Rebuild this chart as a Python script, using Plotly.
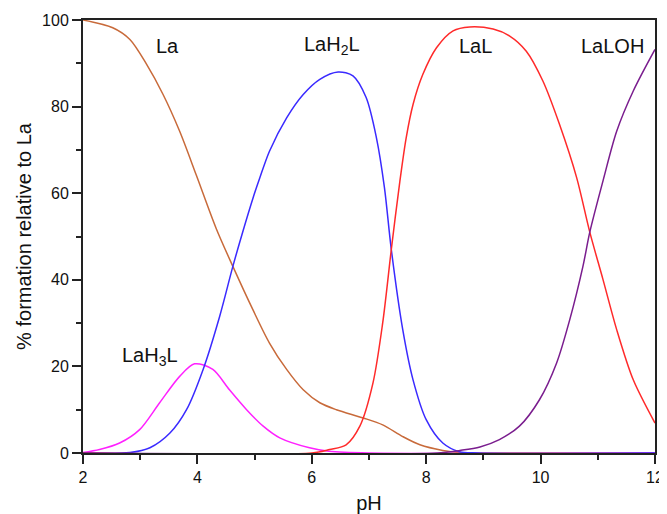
import plotly.graph_objects as go

# species distribution (pH, % formation)
la_ph = [2.0, 2.52, 2.82, 3.11, 3.40, 3.69, 3.98, 4.33, 4.62, 4.97, 5.26, 5.56, 5.85, 6.14, 6.43, 6.90, 7.24, 7.59, 7.89, 8.29, 8.6, 9.0, 12.0]
la_val = [100, 98.2, 95.5, 89.8, 82.8, 74.3, 64.2, 51.8, 43.1, 33.1, 25.4, 19.3, 14.6, 11.6, 10.0, 8.1, 6.5, 3.8, 1.9, 0.6, 0.1, 0, 0]

lah3l_ph = [2.0, 2.29, 2.64, 2.99, 3.34, 3.69, 3.95, 4.27, 4.56, 4.86, 5.15, 5.44, 5.96, 6.3, 7.0, 12.0]
lah3l_val = [0.1, 0.8, 2.3, 5.4, 11.6, 17.7, 20.6, 19.3, 14.6, 10.0, 6.2, 3.5, 1.2, 0.4, 0, 0]

lah2l_ph = [2.0, 2.82, 3.17, 3.52, 3.81, 4.10, 4.39, 4.62, 4.80, 4.97, 5.09, 5.26, 5.56, 5.85, 6.14, 6.46, 6.72, 6.95, 7.13, 7.27, 7.39, 7.59, 7.77, 8.00, 8.29, 8.58, 8.9, 12.0]
lah2l_val = [0, 0.1, 1.2, 4.6, 10.0, 19.3, 31.6, 43.1, 51.4, 58.8, 63.5, 69.7, 77.4, 82.8, 86.3, 88.0, 87.1, 82.1, 72.8, 61.3, 47.0, 28.5, 16.9, 7.7, 2.3, 0.3, 0, 0]

lal_ph = [2.0, 6.0, 6.31, 6.60, 6.84, 7.07, 7.24, 7.39, 7.54, 7.65, 7.77, 7.94, 8.18, 8.47, 8.76, 9.17, 9.46, 9.75, 10.04, 10.33, 10.63, 10.86, 11.09, 11.33, 11.62, 12.0]
lal_val = [0, 0, 0.8, 1.9, 6.2, 16.2, 30.1, 47.0, 62.8, 72.8, 80.5, 87.4, 93.6, 97.5, 98.4, 97.9, 96.3, 92.8, 85.9, 75.9, 63.6, 51.0, 40.1, 28.5, 16.9, 6.9]

laloh_ph = [2.0, 8.2, 8.59, 8.94, 9.28, 9.63, 9.98, 10.28, 10.51, 10.74, 10.86, 11.09, 11.33, 11.62, 12.0]
laloh_val = [0, 0, 0.6, 1.4, 3.1, 6.2, 12.3, 20.8, 30.8, 43.1, 51.0, 62.8, 74.3, 83.6, 93.2]

labels = ["La", "LaH<sub>2</sub>L", "LaL", "LaLOH", "LaH<sub>3</sub>L"]
label_x = [3.47, 6.35, 8.86, 11.26, 3.17]
label_y = [94, 94, 94, 94, 22.3]

FONT = "Liberation Sans, Arial, sans-serif"

fig = go.Figure()

series = [
    (la_ph, la_val, "La", "#c86a3a"),
    (lah3l_ph, lah3l_val, "LaH3L", "#ff20ff"),
    (lah2l_ph, lah2l_val, "LaH2L", "#3a2aff"),
    (lal_ph, lal_val, "LaL", "#ff2a2a"),
    (laloh_ph, laloh_val, "LaLOH", "#7a1d8e"),
]
for xs, ys, name, color in series:
    fig.add_trace(go.Scatter(x=xs, y=ys, name=name, mode="lines",
                             line=dict(color=color, width=1.5, shape="spline", smoothing=0.85),
                             cliponaxis=False))

for txt, x, y in zip(labels, label_x, label_y):
    fig.add_annotation(x=x, y=y, text=txt, showarrow=False,
                       font=dict(family=FONT, size=20, color="#111"))

axis_common = dict(showgrid=False, zeroline=False, showline=True, mirror=True,
                   linecolor="#222", linewidth=2, ticks="outside", ticklen=9,
                   tickwidth=1.5, tickcolor="#222", automargin=False,
                   tickfont=dict(family=FONT, size=16, color="#111"))

fig.update_xaxes(range=[2, 12], dtick=2, tick0=2,
                 minor=dict(dtick=1, ticks="outside", ticklen=5, tickcolor="#222"),
                 title=dict(text="pH", font=dict(family=FONT, size=20, color="#111"), standoff=14),
                 **axis_common)
fig.update_yaxes(range=[0, 100], dtick=20,
                 minor=dict(dtick=10, ticks="outside", ticklen=5, tickcolor="#222"),
                 title=dict(text="% formation relative to La", font=dict(family=FONT, size=20, color="#111"), standoff=5),
                 **axis_common)

# page body adds an 8px margin, so the figure is sized to leave room for it
fig.update_layout(width=659, height=506, showlegend=False,
                  plot_bgcolor="white", paper_bgcolor="white",
                  margin=dict(l=75, r=12, t=12, b=61))

fig.write_html("out.html")
